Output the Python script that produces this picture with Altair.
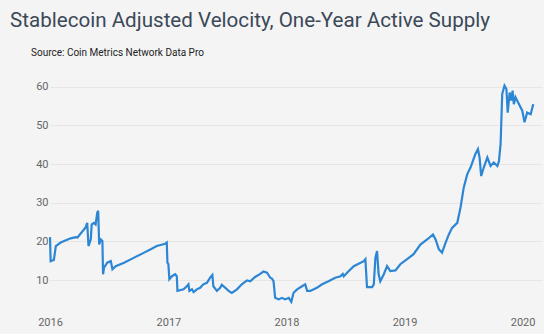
import altair as alt
import pandas as pd

dates = [
    "2016-01-01", "2016-01-03", "2016-01-13", "2016-01-19", "2016-02-03", "2016-03-05",
    "2016-03-21", "2016-03-26", "2016-04-20", "2016-04-25", "2016-04-29", "2016-05-06",
    "2016-05-09", "2016-05-16", "2016-05-21", "2016-05-26", "2016-05-29", "2016-06-01",
    "2016-06-06", "2016-06-11", "2016-06-13", "2016-06-16", "2016-06-26", "2016-07-07",
    "2016-07-12", "2016-07-22", "2016-08-17", "2016-09-17", "2016-10-18", "2016-11-06",
    "2016-11-26", "2016-12-22", "2016-12-27", "2016-12-29", "2017-01-01", "2017-01-04",
    "2017-01-12", "2017-01-22", "2017-01-27", "2017-01-29", "2017-02-17", "2017-02-27",
    "2017-03-04", "2017-03-07", "2017-03-15", "2017-03-20", "2017-03-30", "2017-04-09",
    "2017-04-19", "2017-04-30", "2017-05-10", "2017-05-17", "2017-05-20", "2017-05-31",
    "2017-06-10", "2017-06-15", "2017-06-26", "2017-07-06", "2017-07-16", "2017-08-01",
    "2017-08-16", "2017-09-01", "2017-09-11", "2017-09-26", "2017-10-12", "2017-10-22",
    "2017-11-02", "2017-11-12", "2017-11-17", "2017-11-22", "2017-11-27", "2017-12-08",
    "2017-12-18", "2017-12-28", "2018-01-08", "2018-01-16", "2018-01-23", "2018-02-03",
    "2018-02-18", "2018-02-28", "2018-03-06", "2018-03-16", "2018-04-05", "2018-04-21",
    "2018-05-11", "2018-06-01", "2018-06-17", "2018-06-24", "2018-06-27", "2018-07-12",
    "2018-07-28", "2018-08-12", "2018-08-28", "2018-09-02", "2018-09-07", "2018-09-23",
    "2018-09-28", "2018-10-03", "2018-10-08", "2018-10-13", "2018-10-18", "2018-10-29",
    "2018-11-08", "2018-11-18", "2018-12-04", "2018-12-19", "2019-01-09", "2019-01-29",
    "2019-02-19", "2019-03-12", "2019-03-30", "2019-04-07", "2019-04-17", "2019-04-27",
    "2019-05-08", "2019-05-18", "2019-05-28", "2019-06-13", "2019-06-23", "2019-07-03",
    "2019-07-14", "2019-07-24", "2019-08-08", "2019-08-16", "2019-08-21", "2019-08-26",
    "2019-09-03", "2019-09-14", "2019-09-24", "2019-10-04", "2019-10-15", "2019-10-20",
    "2019-10-25", "2019-10-30", "2019-11-06", "2019-11-12", "2019-11-16", "2019-11-22",
    "2019-11-27", "2019-12-01", "2019-12-05", "2019-12-10", "2019-12-21", "2019-12-31",
    "2020-01-07", "2020-01-15", "2020-01-26", "2020-02-03",
]

velocity = [
    21.1, 14.9, 15.2, 18.8, 19.7, 20.8,
    21.1, 21.0, 23.6, 24.8, 18.8, 20.5,
    24.4, 24.8, 24.4, 27.4, 27.9, 19.2,
    20.5, 20.1, 11.5, 13.2, 14.5, 14.9,
    12.8, 13.6, 14.5, 15.8, 17.1, 17.9,
    18.8, 19.4, 19.7, 14.5, 14.1, 10.2,
    11.0, 11.5, 11.0, 7.2, 7.6, 8.4,
    8.9, 7.2, 7.6, 6.9, 7.6, 8.0,
    8.9, 9.3, 10.6, 11.3, 8.4, 7.2,
    8.0, 8.8, 8.0, 7.2, 6.7, 7.6,
    8.9, 9.9, 9.7, 10.8, 11.6, 12.2,
    11.9, 10.6, 10.4, 9.7, 5.4, 5.0,
    5.4, 5.0, 5.4, 4.4, 6.7, 7.6,
    8.4, 8.9, 7.2, 7.2, 8.0, 8.9,
    9.7, 10.6, 11.0, 11.6, 11.0, 12.3,
    13.6, 14.2, 14.9, 15.4, 8.2, 8.2,
    8.9, 15.8, 17.5, 11.5, 9.7, 11.5,
    13.6, 12.3, 12.5, 14.1, 15.4, 16.7,
    19.2, 20.5, 21.8, 20.5, 18.0, 17.1,
    19.7, 21.8, 23.5, 24.8, 28.7, 33.9,
    37.4, 39.1, 42.6, 43.9, 41.7, 36.9,
    39.1, 41.7, 39.5, 40.4, 39.5, 40.8,
    45.2, 58.1, 60.3, 59.4, 53.3, 58.5,
    56.4, 59.0, 55.5, 57.3, 55.5, 53.8,
    50.8, 53.3, 52.9, 55.5,
]

y_ticks = [10, 20, 30, 40, 50, 60]
title_text = "Stablecoin Adjusted Velocity, One-Year Active Supply"
source_text = "Source: Coin Metrics Network Data Pro"

df = pd.DataFrame({"date": pd.to_datetime(dates), "velocity": velocity})

line = alt.Chart(df).mark_line(color="#2c86d4", strokeWidth=2.2, interpolate="linear").encode(
    x=alt.X(
        "date:T",
        scale=alt.Scale(domain=["2016-01-01", "2020-03-01"], nice=False),
        axis=alt.Axis(
            title=None, format="%Y", tickCount="year", grid=False, domain=False, ticks=False,
            labelPadding=5, labelFontSize=11, labelColor="#666666", labelFont="Roboto",
            labelFlush=False, labelAlign="center", labelOverlap=False, labelBound=False,
        ),
    ),
    y=alt.Y(
        "velocity:Q",
        scale=alt.Scale(domain=[2, 62], nice=False, zero=False),
        axis=alt.Axis(
            title=None, values=y_ticks, grid=True, gridColor="#e6e6e6", gridWidth=1,
            domain=False, ticks=False, labelPadding=2, labelFontSize=11,
            labelColor="#666666", labelFont="Roboto",
        ),
    ),
)

title = alt.Chart(alt.Data(values=[{"t": title_text}])).mark_text(
    align="left", baseline="alphabetic", font="Roboto", fontSize=20.6, color="#3b4858",
).encode(text="t:N", x=alt.value(-40), y=alt.value(-52))

source = alt.Chart(alt.Data(values=[{"t": source_text}])).mark_text(
    align="left", baseline="middle", font="Roboto", fontSize=10, color="#222222",
).encode(text="t:N", x=alt.value(-19), y=alt.value(-26))

chart = alt.layer(line, title, source).properties(
    width=492,
    height=232,
    padding={"left": 50, "top": 79, "right": 2, "bottom": 23},
    autosize=alt.AutoSizeParams(type="none"),
    background="#f4f4f4",
).configure_view(stroke=None)

chart.save("out.html", embed_options={"renderer": "svg", "actions": False})
